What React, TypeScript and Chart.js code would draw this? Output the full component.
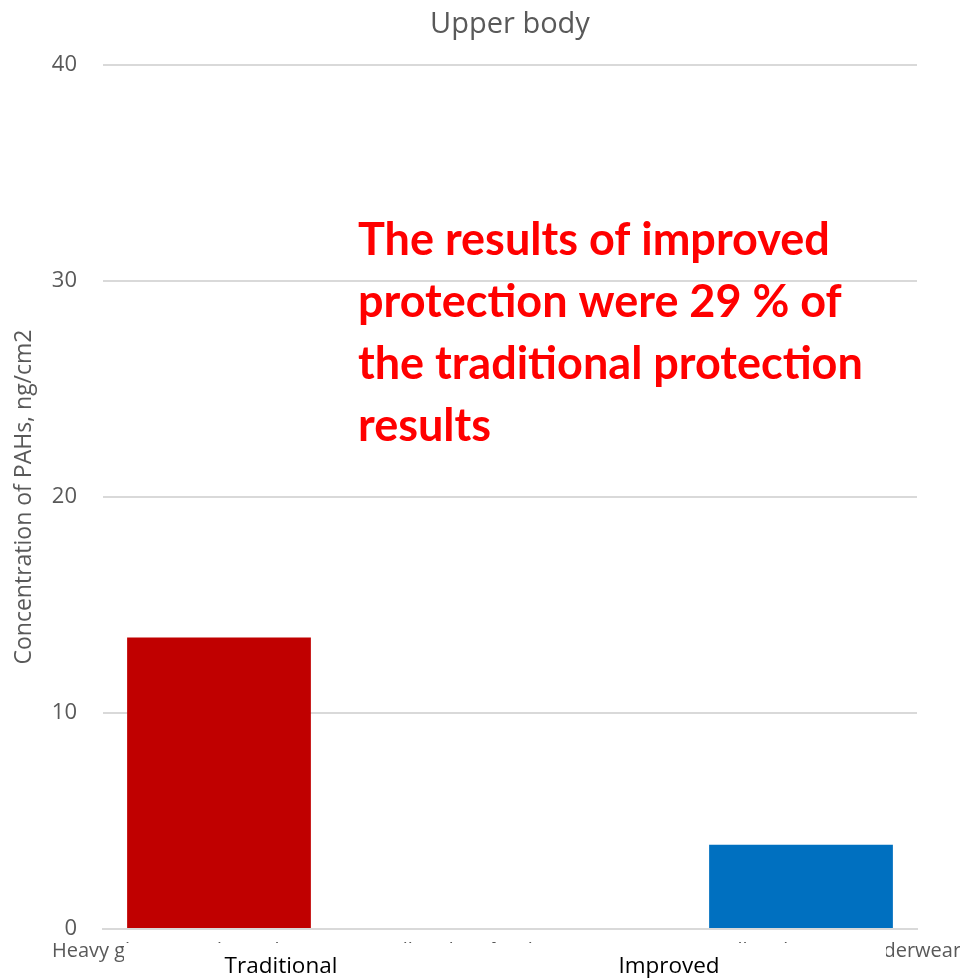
import React, { useEffect, useRef } from "react";
import { Chart, registerables } from "chart.js";

Chart.register(...registerables);

// Category labels (long descriptions, partly covered by the group captions)
const categories = [
  "Heavy gloves, traditional cotton overall and underwear",
  "Light gloves, protective overall and cotton underwear",
];
const seriesNames = ["Traditional", "Improved"];
const traditionalValues = [13.5, null];
const improvedValues = [null, 3.9];
const yMin = 0;
const yMax = 40;
const yStep = 10;

const chartTitle = "Upper body";
const yAxisTitle = "Concentration of PAHs, ng/cm2";
const noteLines = [
  "The results of improved",
  "protection were 29 % of",
  "the traditional protection",
  "results",
];

const FONT = "'Open Sans', 'DejaVu Sans', sans-serif";
const NOTE_FONT = "Lato, 'Open Sans', sans-serif";
const GREY = "#595959";

export default function App() {
  const canvasRef = useRef<HTMLCanvasElement | null>(null);

  useEffect(() => {
    if (!canvasRef.current) return;

    const overlay = {
      id: "overlay",
      afterDraw(chart: any) {
        const { ctx, chartArea } = chart;
        ctx.save();

        // Chart title, centred over the plot area
        ctx.fillStyle = GREY;
        ctx.font = `29px ${FONT}`;
        ctx.textAlign = "center";
        ctx.textBaseline = "alphabetic";
        ctx.fillText(chartTitle, (chartArea.left + chartArea.right) / 2, 33);

        // Group caption boxes laid over the category labels
        const boxTop = chartArea.bottom + 14;
        ctx.fillStyle = "#ffffff";
        ctx.fillRect(124, boxTop, 762, chart.height - boxTop);
        ctx.fillStyle = "#000000";
        ctx.font = `22.5px ${FONT}`;
        ctx.textAlign = "center";
        ctx.fillText(seriesNames[0], 281, 973);
        ctx.fillText(seriesNames[1], 669, 973);

        // Highlighted note
        ctx.fillStyle = "#FF0000";
        ctx.font = `bold 45px ${NOTE_FONT}`;
        ctx.textAlign = "left";
        const baseY = 255;
        noteLines.forEach((line, i) => {
          ctx.fillText(line, 358, baseY + i * 62);
        });

        ctx.restore();
      },
    };

    const chart = new Chart(canvasRef.current, {
      type: "bar",
      data: {
        labels: categories,
        datasets: [
          {
            label: seriesNames[0],
            data: traditionalValues,
            backgroundColor: "#C00000",
            categoryPercentage: 0.86,
            barPercentage: 1.05,
          },
          {
            label: seriesNames[1],
            data: improvedValues,
            backgroundColor: "#0070C0",
            categoryPercentage: 0.86,
            barPercentage: 1.05,
          },
        ],
      },
      options: {
        responsive: false,
        animation: false,
        layout: { padding: { top: 65, right: 43, bottom: 0, left: 0 } },
        plugins: {
          legend: { display: false },
          tooltip: { enabled: false },
          title: { display: false },
        },
        scales: {
          x: {
            grid: { display: false, drawTicks: false },
            border: { display: true, color: "#D9D9D9", width: 2 },
            ticks: {
              color: GREY,
              font: { family: FONT, size: 20 },
              autoSkip: false,
              maxRotation: 0,
              minRotation: 0,
              padding: 10,
            },
            afterFit(scale: any) {
              scale.height = 51;
              // long labels may spill past the plot edges without shrinking it
              scale.paddingLeft = 0;
              scale.paddingRight = 0;
            },
          },
          y: {
            min: yMin,
            max: yMax,
            ticks: {
              stepSize: yStep,
              color: GREY,
              font: { family: FONT, size: 22 },
              padding: 26,
            },
            grid: { color: "#D9D9D9", lineWidth: 2, drawTicks: false },
            border: { display: false },
            title: {
              display: true,
              text: yAxisTitle,
              color: GREY,
              font: { family: FONT, size: 23 },
              padding: { top: 11, bottom: 0 },
            },
            afterFit(scale: any) {
              scale.width = 103;
              scale.paddingTop = 0;
              scale.paddingBottom = 0;
            },
          },
        },
      },
      plugins: [overlay],
    });

    return () => chart.destroy();
  }, []);

  return (
    <div style={{ position: "fixed", left: 0, top: 0, width: 960, height: 980, background: "#fff" }}>
      <canvas ref={canvasRef} width={960} height={980} style={{ display: "block" }} />
    </div>
  );
}
